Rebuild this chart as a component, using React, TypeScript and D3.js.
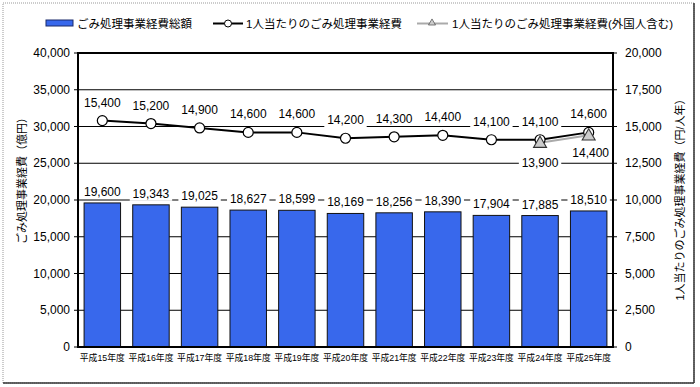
import React from "react";
import * as d3 from "d3";

const categories = ["平成15年度","平成16年度","平成17年度","平成18年度","平成19年度","平成20年度","平成21年度","平成22年度","平成23年度","平成24年度","平成25年度"];
const totalCost = [19600,19343,19025,18627,18599,18169,18256,18390,17904,17885,18510];
const perCapita = [15400,15200,14900,14600,14600,14200,14300,14400,14100,14100,14600];
const foreignCats = ["平成24年度","平成25年度"];
const perCapitaForeign = [13900,14400];
const leftTicks = [0,5000,10000,15000,20000,25000,30000,35000,40000];
const rightTicks = [0,2500,5000,7500,10000,12500,15000,17500,20000];
const legendLabels = ["ごみ処理事業経費総額","1人当たりのごみ処理事業経費","1人当たりのごみ処理事業経費(外国人含む)"];
const leftTitle = "ごみ処理事業経費（億円）";
const rightTitle = "1人当たりのごみ処理事業経費（円/人年）";

const FONT = "'Liberation Sans','Noto Sans CJK JP',sans-serif";
const W = 700, H = 387;
const L = 78, R = 613, T = 53, B = 347;
const BAR = "#3868ec";

function Label({ x, y, text, fill = "#000" }: { x: number; y: number; text: string; fill?: string }) {
  const w = text.length * 6.4 + 4;
  return (
    <g>
      <rect x={x - w / 2} y={y - 8} width={w} height={15} fill="#fff" />
      <text x={x} y={y} textAnchor="middle" dominantBaseline="central" fontSize={12} fill={fill} fontFamily={FONT}>{text}</text>
    </g>
  );
}

export default function App() {
  const x = d3.scaleBand<string>().domain(categories).range([L, R]).paddingInner(0.25).paddingOuter(0.125);
  const yL = d3.scaleLinear().domain([0, 40000]).range([B, T]);
  const yR = d3.scaleLinear().domain([0, 20000]).range([B, T]);
  const cx = (c: string) => (x(c) as number) + x.bandwidth() / 2;
  const fmt = d3.format(",");
  const line = d3.line<number>().x((_, i) => cx(categories[i])).y(d => yR(d));
  const lineF = d3.line<number>().x((_, i) => cx(foreignCats[i])).y(d => yR(d));
  const tri = d3.symbol().type(d3.symbolTriangle).size(60)();

  return (
    <svg width={W} height={H} style={{ position: "absolute", left: 0, top: 0, background: "#fff" }}>
      <rect x={0} y={0} width={W} height={H} fill="#fff" />
      <rect x={3} y={3} width={691} height={380} fill="none" stroke="#999" strokeDasharray="1,1" />
      <line x1={694} y1={3} x2={694} y2={383} stroke="#333" strokeWidth={1.5} />
      <line x1={3} y1={383} x2={694} y2={383} stroke="#333" strokeWidth={1.5} />

      {/* legend */}
      <rect x={46} y={20} width={27} height={6} fill={BAR} stroke="#1a2a6a" strokeWidth={1} />
      <text x={77} y={23.5} dominantBaseline="central" fontSize={11.5} fontFamily={FONT}>{legendLabels[0]}</text>
      <line x1={213} x2={243} y1={23.5} y2={23.5} stroke="#000" strokeWidth={2} />
      <circle cx={228} cy={23.5} r={3.5} fill="#fff" stroke="#000" strokeWidth={1} />
      <text x={246} y={23.5} dominantBaseline="central" fontSize={11.5} fontFamily={FONT}>{legendLabels[1]}</text>
      <line x1={417} x2={448} y1={23.5} y2={23.5} stroke="#aaa" strokeWidth={2} />
      <path d={tri} transform={`translate(432,23) scale(0.6)`} fill="#ccc" stroke="#333" strokeWidth={1} />
      <text x={452} y={23.5} dominantBaseline="central" fontSize={11.5} fontFamily={FONT}>{legendLabels[2]}</text>

      {/* gridlines */}
      {leftTicks.slice(1, -1).map(t => (
        <line key={t} x1={L} x2={R} y1={yL(t)} y2={yL(t)} stroke="#000" strokeWidth={1} />
      ))}

      {/* bars */}
      {categories.map((c, i) => (
        <rect key={c} x={x(c)} y={yL(totalCost[i])} width={x.bandwidth()} height={B - yL(totalCost[i])} fill={BAR} stroke="#111" strokeWidth={1} />
      ))}

      {/* plot frame */}
      <rect x={L} y={T} width={R - L} height={B - T} fill="none" stroke="#000" strokeWidth={2} />

      {/* axis ticks */}
      {leftTicks.map(t => (
        <g key={t}>
          <line x1={L - 4} x2={L} y1={yL(t)} y2={yL(t)} stroke="#000" />
          <text x={70} y={yL(t)} textAnchor="end" dominantBaseline="central" fontSize={12} fontFamily={FONT}>{fmt(t)}</text>
        </g>
      ))}
      {rightTicks.map(t => (
        <g key={t}>
          <line x1={R} x2={R + 4} y1={yR(t)} y2={yR(t)} stroke="#000" />
          <text x={625} y={yR(t)} textAnchor="start" dominantBaseline="central" fontSize={12} fontFamily={FONT}>{fmt(t)}</text>
        </g>
      ))}
      {categories.map(c => (
        <text key={c} x={cx(c)} y={358} textAnchor="middle" dominantBaseline="central" fontSize={8.8} fontFamily={FONT}>{c}</text>
      ))}

      <text transform={`translate(22,${(T + B) / 2 - 22}) rotate(-90)`} textAnchor="middle" dominantBaseline="central" fontSize={11} fontFamily={FONT}>{leftTitle}</text>
      <text transform={`translate(680,${(T + B) / 2 - 3}) rotate(-90)`} textAnchor="middle" dominantBaseline="central" fontSize={11} fontFamily={FONT}>{rightTitle}</text>

      {/* lines */}
      <path d={lineF(perCapitaForeign) || ""} fill="none" stroke="#aaa" strokeWidth={2} />
      <path d={line(perCapita) || ""} fill="none" stroke="#000" strokeWidth={2} />
      {perCapita.map((v, i) => (
        <circle key={i} cx={cx(categories[i])} cy={yR(v)} r={5} fill="#fff" stroke="#000" strokeWidth={1.2} />
      ))}
      {perCapitaForeign.map((v, i) => (
        <path key={i} d={tri} transform={`translate(${cx(foreignCats[i])},${yR(v) + 1}) scale(1.1)`} fill="#ccc" stroke="#333" strokeWidth={1} />
      ))}

      {/* labels */}
      {categories.map((c, i) => (
        <Label key={"b" + c} x={cx(c)} y={yL(totalCost[i]) - 11} text={fmt(totalCost[i])} />
      ))}
      {categories.map((c, i) => (
        <Label key={"l" + c} x={cx(c)} y={yR(perCapita[i]) - 18} text={fmt(perCapita[i])} />
      ))}
      {foreignCats.map((c, i) => (
        <Label key={"f" + c} x={cx(c) + (i === 1 ? 2 : 0)} y={yR(perCapitaForeign[i]) + (i === 0 ? 20 : 18)} text={fmt(perCapitaForeign[i])} />
      ))}
    </svg>
  );
}
